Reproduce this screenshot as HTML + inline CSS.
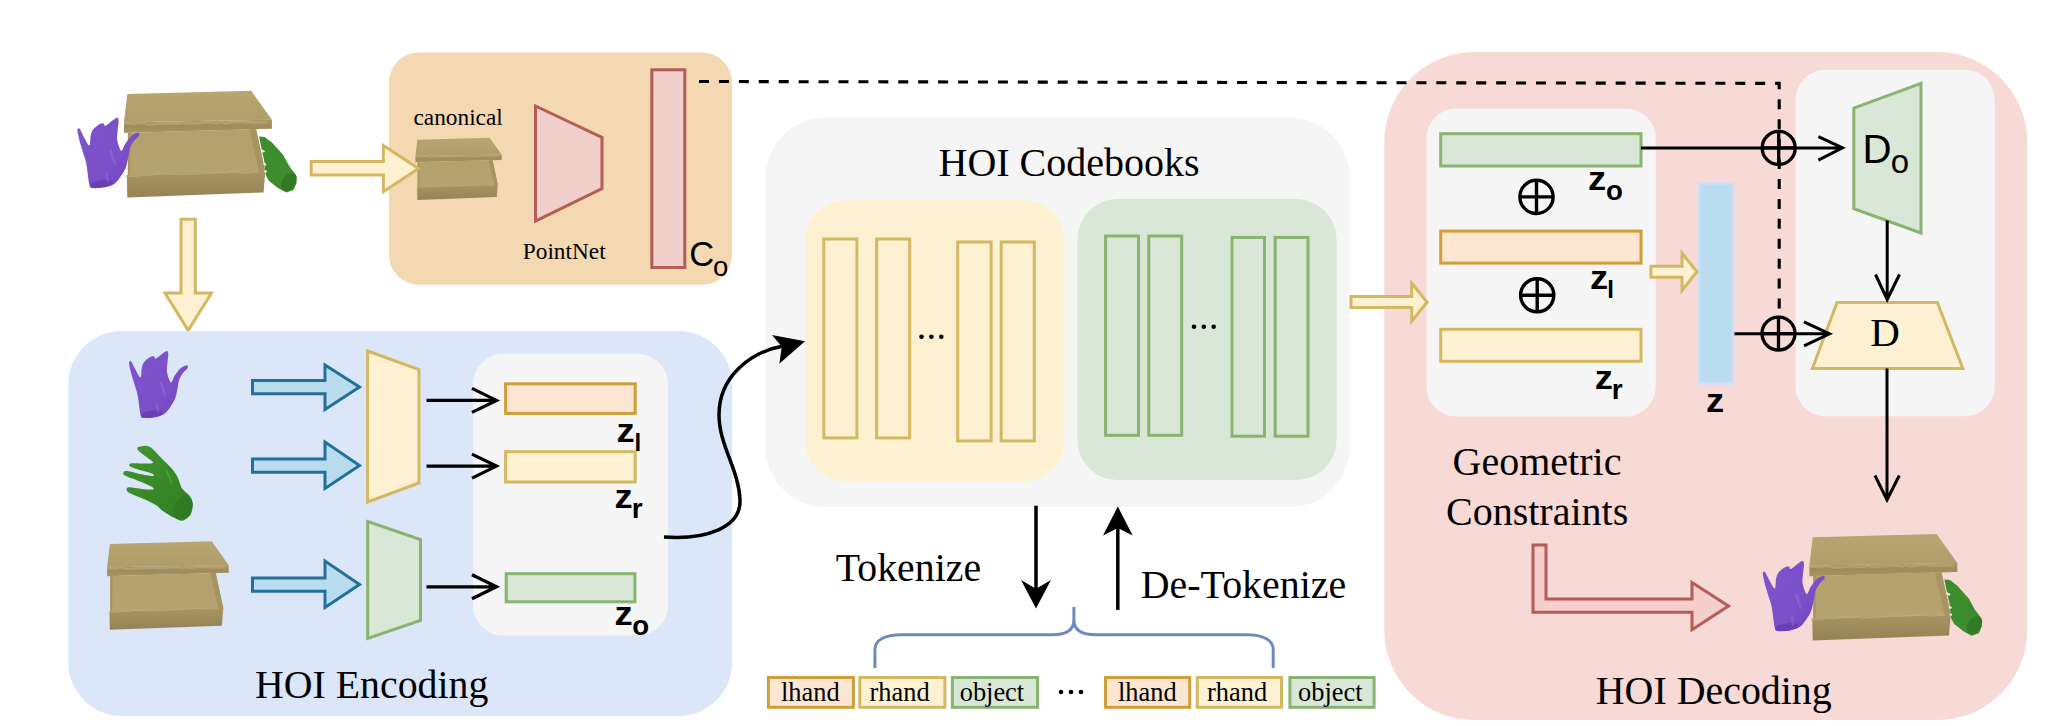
<!DOCTYPE html>
<html><head><meta charset="utf-8">
<style>
html,body{margin:0;padding:0;background:#fff;}
svg{display:block;}
.serif{font-family:"Liberation Serif",serif;}
.sans{font-family:"Liberation Sans",sans-serif;}
</style></head><body>
<svg width="2062" height="726" viewBox="0 0 2062 726">
<defs>
  <linearGradient id="pg" x1="0" y1="0" x2="1" y2="1">
    <stop offset="0" stop-color="#7e54cc"/><stop offset="0.6" stop-color="#7a4fc8"/><stop offset="1" stop-color="#6d42bb"/>
  </linearGradient>
  <linearGradient id="gg" x1="0" y1="0" x2="1" y2="1">
    <stop offset="0" stop-color="#45952f"/><stop offset="1" stop-color="#2f7d22"/>
  </linearGradient>
    <linearGradient id="lidtop" x1="0" y1="0" x2="0" y2="1">
    <stop offset="0" stop-color="#b8a672"/><stop offset="1" stop-color="#b09d69"/>
  </linearGradient>
  <linearGradient id="lidfront" x1="0" y1="0" x2="0" y2="1">
    <stop offset="0" stop-color="#ab9866"/><stop offset="0.5" stop-color="#9f8c5c"/><stop offset="1" stop-color="#a89563"/>
  </linearGradient>
  <linearGradient id="floor" x1="0" y1="0" x2="0" y2="1">
    <stop offset="0" stop-color="#b4a16d"/><stop offset="1" stop-color="#b6a470"/>
  </linearGradient>
  <linearGradient id="front" x1="0" y1="0" x2="0" y2="1">
    <stop offset="0" stop-color="#a89562"/><stop offset="1" stop-color="#968356"/>
  </linearGradient>
  <g id="box">
    <polygon points="3.7,3.7 127.6,0.4 148.3,29.3 0.4,31.8" fill="url(#lidtop)"/>
    <polygon points="0.4,31.8 148.3,29.3 148.3,38.4 0.4,42.6" fill="url(#lidfront)"/>
    <polygon points="4.3,42.4 132.5,38.6 141.7,81 4.3,85" fill="url(#floor)"/>
    <polygon points="126,39 132.5,38.6 141.7,81 135.5,81.5" fill="#a7945f"/>
    <polygon points="4.3,42.4 7,42.4 6.5,85 4.3,85" fill="#a69360"/>
    <polygon points="3.2,84.6 141.7,80.6 140,102 3.7,107" fill="url(#front)"/>
    <polyline points="1.0,32.9 6.2,33.1 11.6,33.7 14.9,32.1 21.2,32.6 25.1,34.4 30.0,33.9 34.9,33.3 38.5,33.2 45.0,32.8 51.0,33.1 54.2,33.3 59.6,32.0 62.7,33.4 67.6,33.0 74.1,32.8 80.8,31.9 87.0,31.9 93.7,32.9 97.1,31.0 101.0,33.0 105.8,32.1 110.0,31.7 114.5,31.2 119.8,31.7 126.5,31.9 133.2,32.2 140.1,31.6 143.8,32.0" fill="none" stroke="#c8b888" stroke-width="2.4" stroke-opacity="0.4"/>
    <polyline points="2.0,86.0 8.8,85.4 13.9,85.5 20.8,84.2 25.1,85.2 34.0,83.4 42.0,83.8 46.8,83.5 54.6,84.4 58.9,83.8 63.1,83.8 68.7,84.0 77.6,83.0 86.6,82.4 91.0,82.8 95.2,81.9 101.2,82.5 106.0,81.3 114.3,81.6 123.1,82.5 129.0,81.5 135.6,81.6" fill="none" stroke="#c4b386" stroke-width="1.5" stroke-opacity="0.55"/>
  </g>
  <g id="phand">
    <path fill="url(#pg)" d="M140.5,415.0 C139.5,411.2 138.7,400.4 137.6,395.1 C136.5,389.8 135.3,387.4 134.1,383.3 C132.9,379.2 131.3,373.8 130.5,370.5 C129.7,367.2 129.2,365.0 129.1,363.4 C129.0,361.8 129.6,361.3 130.0,361.1 C130.4,360.9 130.8,360.9 131.7,362.3 C132.6,363.7 133.7,366.8 135.2,369.3 C136.7,371.8 139.4,377.7 140.5,377.5 C141.6,377.3 141.1,370.6 141.7,368.1 C142.3,365.6 142.7,364.1 144.0,362.3 C145.3,360.6 147.6,358.6 149.3,357.6 C151.0,356.6 153.0,356.2 154.0,356.4 C155.0,356.6 154.5,358.5 155.1,358.7 C155.7,358.9 156.2,358.5 157.5,357.6 C158.8,356.7 161.2,354.6 162.8,353.5 C164.4,352.4 166.0,351.0 166.9,351.1 C167.8,351.2 168.2,352.1 168.3,354.1 C168.4,356.2 167.6,360.5 167.4,363.4 C167.2,366.3 166.6,368.9 166.9,371.6 C167.2,374.3 168.4,378.0 169.2,379.8 C170.0,381.6 170.5,383.0 171.5,382.2 C172.5,381.4 173.5,377.5 175.1,375.1 C176.7,372.8 178.9,369.8 180.9,368.1 C182.9,366.5 185.7,365.2 186.8,365.2 C187.9,365.2 188.3,366.8 187.7,368.1 C187.1,369.4 184.6,370.9 183.2,372.8 C181.8,374.8 180.2,377.1 179.2,379.8 C178.2,382.5 178.1,386.1 177.4,389.2 C176.7,392.3 176.3,395.7 175.1,398.6 C173.9,401.5 172.2,404.3 170.4,406.8 C168.6,409.3 167.1,412.1 164.5,413.8 C161.9,415.6 158.6,416.6 155.1,417.3 C151.6,418.0 145.8,418.3 143.4,417.9 C141.0,417.5 141.5,418.8 140.5,415.0 Z"/>
    <ellipse cx="152" cy="414" rx="11" ry="3.5" fill="#6a3db5" transform="rotate(-8 152 414)"/>
    <path d="M161,383 Q163,390 165,395" stroke="#9b77e0" stroke-width="2.4" stroke-opacity="0.4" stroke-linecap="round" fill="none"/>
    <path d="M157,404 L158,412" stroke="#9b77e0" stroke-width="2.2" stroke-opacity="0.4" stroke-linecap="round" fill="none"/>
  </g>
  <g id="ghand">
    <path fill="url(#gg)" d="M138.4,447.0 C139.4,446.7 143.3,445.7 145.0,445.8 C146.7,445.9 148.9,446.1 151.0,447.6 C153.1,449.1 157.9,454.5 160.6,457.2 C163.3,459.9 169.1,465.4 171.3,468.0 C173.5,470.6 175.9,473.7 177.3,476.4 C178.7,479.1 180.5,485.9 182.1,488.4 C183.7,490.9 187.9,493.4 189.3,495.5 C190.7,497.6 192.7,501.3 192.9,503.9 C193.1,506.5 191.9,512.5 190.5,514.7 C189.1,516.9 184.5,520.4 182.1,520.7 C179.7,521.0 175.0,518.4 172.5,517.1 C170.0,515.8 165.2,512.7 163.0,511.1 C160.8,509.5 158.2,506.6 155.8,505.1 C153.4,503.6 147.9,500.8 145.0,499.5 C142.1,498.2 136.3,496.0 134.0,495.0 C131.7,494.0 129.0,492.8 128.0,492.0 C127.0,491.2 126.4,489.6 126.5,489.0 C126.6,488.4 126.9,487.3 129.0,487.3 C131.1,487.3 138.8,488.7 142.0,489.0 C145.2,489.3 151.7,489.8 153.0,489.5 C154.3,489.2 153.7,488.1 152.0,487.0 C150.3,485.9 143.3,482.9 140.0,481.5 C136.7,480.1 129.2,477.5 127.0,476.5 C124.8,475.5 123.5,474.7 123.2,474.0 C122.9,473.3 123.7,471.7 124.5,471.3 C125.3,470.9 126.9,470.9 129.0,471.3 C131.1,471.7 136.8,473.4 140.0,474.0 C143.2,474.6 151.4,476.1 153.0,476.0 C154.6,475.9 153.7,474.3 152.0,473.5 C150.3,472.7 142.8,470.9 140.0,470.0 C137.2,469.1 132.4,467.7 131.0,467.0 C129.6,466.3 129.2,465.5 129.3,465.0 C129.4,464.5 129.4,463.5 131.5,463.3 C133.6,463.1 142.1,463.5 145.0,463.5 C147.9,463.5 152.3,463.5 153.0,463.0 C153.7,462.5 151.9,461.2 150.0,459.6 C148.1,458.0 140.7,452.7 139.0,451.2 C137.3,449.7 137.4,448.8 137.3,448.2 C137.2,447.6 137.4,447.3 138.4,447.0 Z"/>
    <ellipse cx="183" cy="507" rx="8" ry="12" fill="#2f7a23" transform="rotate(30 183 507)"/>
    <path d="M166,470 Q170,478 172,484" stroke="#5aa84a" stroke-width="1.8" stroke-opacity="0.6" fill="none"/>
  </g>
  <g id="scene">
    <use href="#box" transform="translate(123.6,90.4)"/>
    <use href="#phand" transform="translate(77,117.6) scale(1.05) translate(-128.7,-350.9)"/>
    <path fill="#3d8c2e" d="M259,136.4 L264.6,136.9 L271.9,142.6 L283.2,155 L289.4,166.3 L295.6,174.6 L296.6,182.8 L293.5,190 L286.3,192.6 L278,188 L268.8,180.8 L265.7,175 L264,160 L261,146 Z"/>
    <ellipse cx="289" cy="182" rx="6.5" ry="10" fill="#2f7a23" transform="rotate(35 289 182)"/>
    <path d="M261.5,150 L264.5,152 M263.5,163 L266,165 M264.5,171 L266.5,172" stroke="#f0f0e8" stroke-width="2" fill="none"/>
  </g>
</defs>

<!-- ===== top-left scene ===== -->
<use href="#scene"/>

<!-- orange canonical box -->
<rect x="389" y="52.5" width="343" height="232.3" rx="30" fill="#f3d8b1"/>
<use href="#box" transform="translate(415.2,137.5) scale(0.583)"/>
<text class="serif" x="413.5" y="125.4" font-size="23.3">canonical</text>
<polygon points="535.5,106 602,137.5 602,188.5 535.5,221" fill="#f1cfcb" stroke="#b45d58" stroke-width="3"/>
<text class="serif" x="522.8" y="259.4" font-size="23.3">PointNet</text>
<rect x="651.8" y="69.8" width="33" height="197.7" fill="#f1cfcb" stroke="#b45d58" stroke-width="3"/>
<text class="sans" x="689.3" y="266" font-size="34.5">C</text>
<text class="sans" x="713" y="275.5" font-size="27.5">o</text>

<!-- yellow arrows -->
<path d="M311.2,161.4 L383.4,161.4 L383.4,145.5 L418.5,168.5 L383.4,191.7 L383.4,175 L311.2,175 Z" fill="#fdf1d1" stroke="#d3b862" stroke-width="3"/>
<path d="M181,219.2 L195.3,219.2 L195.3,293 L211.5,293 L188.2,330.3 L165,293 L181,293 Z" fill="#fdf1d1" stroke="#d3b862" stroke-width="3"/>

<!-- ===== HOI Encoding ===== -->
<rect x="68.2" y="331" width="664.1" height="385" rx="54" fill="#dce6f9"/>
<rect x="473" y="354" width="195" height="281.5" rx="30" fill="#f5f5f5"/>
<use href="#phand"/>
<use href="#ghand"/>
<use href="#box" transform="translate(106.8,540.8) scale(0.822,0.832)"/>

<path d="M252.5,380.5 L325,380.5 L325,365 L359.5,387 L325,409.5 L325,393.7 L252.5,393.7 Z" fill="#badcef" stroke="#23709b" stroke-width="3"/>
<path d="M252.5,459 L325,459 L325,442 L359.5,465.5 L325,488.5 L325,472.3 L252.5,472.3 Z" fill="#badcef" stroke="#23709b" stroke-width="3"/>
<path d="M252.5,578 L325,578 L325,561 L359.5,584.5 L325,607.5 L325,591.3 L252.5,591.3 Z" fill="#badcef" stroke="#23709b" stroke-width="3"/>

<polygon points="367.6,351 419,369.5 419,483 367.6,502" fill="#fdf1d1" stroke="#d3b862" stroke-width="3"/>
<polygon points="367.7,521.5 420.5,539.5 420.5,620.5 367.7,638.5" fill="#d9e8d6" stroke="#88b370" stroke-width="3"/>

<g stroke="#000" stroke-width="3.2" fill="none">
  <path d="M426.5,400.4 H495 M472,388.4 L496.5,400.4 L472,412.4"/>
  <path d="M426.5,466.1 H495 M472,454.1 L496.5,466.1 L472,478.1"/>
  <path d="M426.5,586.8 H495 M472,574.8 L496.5,586.8 L472,598.8"/>
</g>

<rect x="505.6" y="383.8" width="129.6" height="29.6" fill="#fce6d2" stroke="#d09e38" stroke-width="3"/>
<rect x="505.6" y="451.7" width="129.6" height="30.3" fill="#fdf1d1" stroke="#d3b862" stroke-width="3"/>
<rect x="506.2" y="573.7" width="128.7" height="28.1" fill="#d9e8d6" stroke="#88b370" stroke-width="3"/>

<g class="sans" font-weight="bold">
  <text x="0" y="0" font-size="33.4" transform="translate(616.5,442) scale(1.09,1)">z</text>
  <text x="634.4" y="450.8" font-size="24">l</text>
  <text x="0" y="0" font-size="33.4" transform="translate(614.5,507.9) scale(1.09,1)">z</text>
  <text x="631.7" y="518.1" font-size="28">r</text>
  <text x="0" y="0" font-size="33.4" transform="translate(614.5,624.8) scale(1.09,1)">z</text>
  <text x="632.3" y="634.7" font-size="27.6">o</text>
</g>
<text class="serif" x="255.1" y="697.6" font-size="39.8">HOI Encoding</text>

<!-- ===== HOI Codebooks ===== -->
<rect x="765.4" y="117.6" width="584.3" height="389.4" rx="60" fill="#f5f5f5"/>
<text class="serif" x="938.5" y="175.5" font-size="40">HOI Codebooks</text>
<rect x="805.3" y="200.3" width="259" height="281" rx="40" fill="#fdf1d1"/>
<rect x="1077.5" y="199.1" width="259" height="281" rx="40" fill="#d9e8d6"/>
<g fill="none" stroke="#d3b862" stroke-width="3">
  <rect x="823.8" y="239" width="33.1" height="198.9"/>
  <rect x="876.6" y="239" width="33.1" height="198.9"/>
  <rect x="957.7" y="242" width="33.4" height="198.9"/>
  <rect x="1001.2" y="242" width="33.1" height="198.9"/>
</g>
<g fill="none" stroke="#88b370" stroke-width="3">
  <rect x="1105.6" y="236" width="32.9" height="199.3"/>
  <rect x="1148.8" y="236" width="32.9" height="199.3"/>
  <rect x="1232" y="237.4" width="32.5" height="198.8"/>
  <rect x="1275.1" y="237.4" width="32.9" height="198.8"/>
</g>
<g fill="#000">
  <circle cx="921.5" cy="336.7" r="2.3"/><circle cx="931.4" cy="336.7" r="2.3"/><circle cx="941.3" cy="336.7" r="2.3"/>
  <circle cx="1194" cy="326.7" r="2.3"/><circle cx="1203.8" cy="326.7" r="2.3"/><circle cx="1213.7" cy="326.7" r="2.3"/>
  <circle cx="1061" cy="692" r="2.3"/><circle cx="1071" cy="692" r="2.3"/><circle cx="1081" cy="692" r="2.3"/>
</g>

<!-- curve arrow -->
<path d="M664,537 C705,540 741,528 740,500 C739,470 719,445 719,415 C719,375 752,352 783,346" fill="none" stroke="#000" stroke-width="3.5"/>
<polygon points="805,341.2 771.9,334.9 781.8,346.4 779.3,363.8" fill="#000"/>

<!-- tokenize arrows -->
<path d="M1036,505.7 V590" stroke="#000" stroke-width="3.5"/>
<polygon points="1021,580 1036,608.6 1051,580 1036,588.8" fill="#000"/>
<path d="M1117.8,609.9 V526" stroke="#000" stroke-width="3.5"/>
<polygon points="1103,535.5 1117.8,506.5 1132.7,535.5 1117.8,528" fill="#000"/>
<text class="serif" x="835.8" y="581" font-size="39.8">Tokenize</text>
<text class="serif" x="1140.8" y="598" font-size="39.9">De-Tokenize</text>

<!-- brace -->
<path d="M874.9,668 V650 C874.9,640 885,634.8 902,634.8 H1052 Q1073.9,634.8 1073.9,620 V607 V620 Q1073.9,634.8 1096,634.8 H1246 C1263,634.8 1273.2,640 1273.2,650 V668" fill="none" stroke="#6c8bbd" stroke-width="3"/>

<!-- tokens -->
<g stroke-width="3">
  <rect x="768.4" y="677.5" width="85" height="29.8" fill="#fce6d2" stroke="#d09e38"/>
  <rect x="859.8" y="677.5" width="85.1" height="29.8" fill="#fdf1d1" stroke="#d3b862"/>
  <rect x="952.4" y="677.5" width="85.1" height="29.8" fill="#d9e8d6" stroke="#88b370"/>
  <rect x="1105.5" y="677.5" width="84.2" height="29.8" fill="#fce6d2" stroke="#d09e38"/>
  <rect x="1197.3" y="677.5" width="84.2" height="29.8" fill="#fdf1d1" stroke="#d3b862"/>
  <rect x="1289.9" y="677.5" width="84.2" height="29.8" fill="#d9e8d6" stroke="#88b370"/>
</g>
<g class="serif" font-size="26.4" transform="translate(0,0.7)">
  <text x="781" y="700.3">lhand</text>
  <text x="869.5" y="700.3">rhand</text>
  <text x="959.7" y="700.3">object</text>
  <text x="1118" y="700.3">lhand</text>
  <text x="1207" y="700.3">rhand</text>
  <text x="1298" y="700.3">object</text>
</g>

<!-- ===== HOI Decoding ===== -->
<rect x="1384.3" y="52.1" width="643" height="668" rx="90" fill="#f7d9d6"/>
<rect x="1426.4" y="108.5" width="229.3" height="308" rx="30" fill="#f5f5f5"/>
<rect x="1795.5" y="69.8" width="199.2" height="346.5" rx="30" fill="#f5f5f5"/>

<rect x="1440.7" y="133.7" width="200.3" height="32.3" fill="#d9e8d6" stroke="#88b370" stroke-width="3"/>
<rect x="1440.7" y="231.1" width="200.3" height="32" fill="#fce6d2" stroke="#d09e38" stroke-width="3"/>
<rect x="1440.7" y="329.3" width="200.3" height="32" fill="#fdf1d1" stroke="#d3b862" stroke-width="3"/>

<g fill="none" stroke="#000" stroke-width="3.4">
  <circle cx="1536.5" cy="196.9" r="16.6"/><path d="M1520,196.9 H1553 M1536.5,180.3 V213.5"/>
  <circle cx="1537.2" cy="295.3" r="16.6"/><path d="M1520.6,295.3 H1553.8 M1537.2,278.7 V311.9"/>
</g>
<g class="sans" font-weight="bold">
  <text x="0" y="0" font-size="33.4" transform="translate(1588.1,189.5) scale(1.09,1)">z</text>
  <text x="1605.9" y="200" font-size="27.6">o</text>
  <text x="0" y="0" font-size="33.4" transform="translate(1590.1,289) scale(1.09,1)">z</text>
  <text x="1607.2" y="298.1" font-size="24">l</text>
  <text x="0" y="0" font-size="33.4" transform="translate(1594.7,388.8) scale(1.09,1)">z</text>
  <text x="1611.8" y="398.7" font-size="28">r</text>
  <text x="0" y="0" font-size="33.4" transform="translate(1706.1,412) scale(1.09,1)">z</text>
</g>

<rect x="1699.3" y="183.5" width="33.7" height="200" fill="#b9dcf0" stroke="#cddff6" stroke-width="2.5"/>

<path d="M1351,296.5 L1411.7,296.5 L1411.7,283 L1427,302.2 L1411.7,321.3 L1411.7,307.6 L1351,307.6 Z" fill="#fdf1d1" stroke="#d3b862" stroke-width="3"/>
<path d="M1650.9,266.3 L1682,266.3 L1682,253.2 L1697,271.7 L1682,290.5 L1682,277.2 L1650.9,277.2 Z" fill="#fdf1d1" stroke="#d3b862" stroke-width="3"/>

<polygon points="1853.8,108.2 1921,83.4 1921,233 1853.8,208.7" fill="#d9e8d6" stroke="#88b370" stroke-width="3"/>
<text class="sans" x="1862.4" y="162.5" font-size="40.2">D</text>
<text class="sans" x="1890.8" y="173.2" font-size="33">o</text>
<polygon points="1837,302.4 1937.4,302.4 1962.8,368.4 1812.4,368.4" fill="#fdf1d1" stroke="#d3b862" stroke-width="3"/>
<text class="serif" x="1870.2" y="346.4" font-size="41">D</text>

<!-- dashed -->
<path d="M699,81.5 L1779.2,83.4 V310" fill="none" stroke="#000" stroke-width="3.1" stroke-dasharray="10,9.928"/>

<g fill="none" stroke="#000" stroke-width="3">
  <path d="M1641,147.9 H1841 M1818.4,136.6 L1842.5,147.9 L1818.4,160.2"/>
  <circle cx="1778.7" cy="147.9" r="16.5" stroke-width="3.3"/><path d="M1762,147.9 H1795 M1778.7,131.4 V164.4" stroke-width="3.3"/>
  <path d="M1734.4,333.8 H1828 M1804,321.8 L1829.5,333.8 L1804,345.8"/>
  <circle cx="1778.5" cy="333.6" r="16.5" stroke-width="3.3"/><path d="M1762,333.6 H1795 M1778.5,317 V350" stroke-width="3.3"/>
  <path d="M1887.2,220.6 V298.5 M1875.5,274.5 L1887.2,299.5 L1899.5,274.5"/>
  <path d="M1887,368.4 V499 M1875,475.5 L1887,499.8 L1899.3,475.5"/>
</g>

<text class="serif" x="1452.6" y="474.8" font-size="40">Geometric</text>
<text class="serif" x="1446" y="524.5" font-size="40">Constraints</text>
<path d="M1533,545 L1546,545 L1546,599 L1692,599 L1692,582.5 L1728.5,606 L1692,629.7 L1692,612.3 L1533,612.3 Z" fill="#f5cfcc" stroke="#b45d58" stroke-width="3"/>

<use href="#scene" transform="translate(1685.4,443.2)"/>
<text class="serif" x="1595.8" y="704.3" font-size="39.9">HOI Decoding</text>
</svg>
</body></html>
